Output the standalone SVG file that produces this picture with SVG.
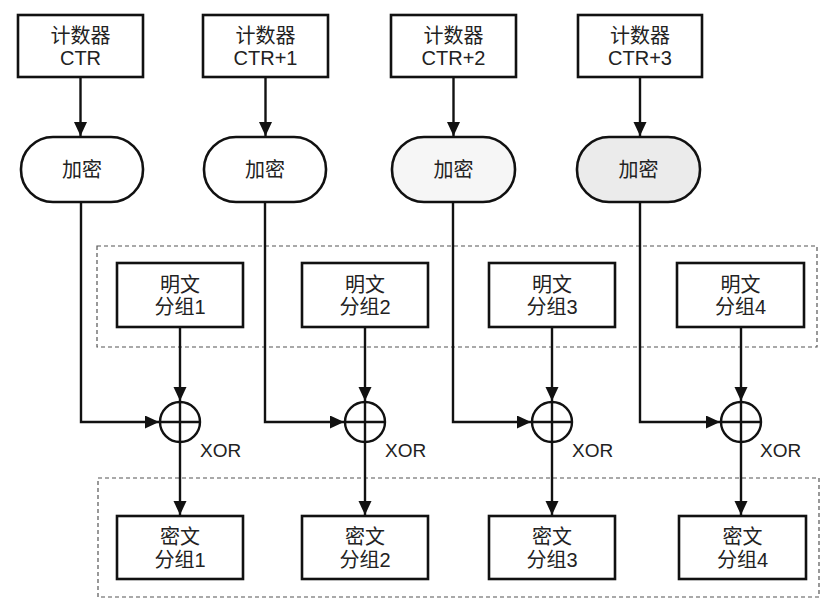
<svg xmlns="http://www.w3.org/2000/svg" width="839" height="610" viewBox="0 0 839 610">
<defs>
<style>
.box{fill:#fff;stroke:#111;stroke-width:2.6}
.enc{stroke:#111;stroke-width:2.6}
.t{font-family:"Liberation Sans","Noto Sans CJK SC",sans-serif;font-size:20px;fill:#222;text-anchor:middle}
.x{font-family:"Liberation Sans","Noto Sans CJK SC",sans-serif;font-size:19px;fill:#222}
.c{fill:none;stroke:#111;stroke-width:2.4}
.dash{fill:none;stroke:#555;stroke-width:1.2;stroke-dasharray:4 3}
.xor{fill:#fff;stroke:#111;stroke-width:2.4}
</style>
<marker id="ah" markerUnits="userSpaceOnUse" markerWidth="14" markerHeight="16" refX="14" refY="6.5" orient="auto">
<path d="M0,0 L14,6.5 L0,13 Z" fill="#111"/>
</marker>
</defs>
<rect width="839" height="610" fill="#fff"/>
<rect class="dash" x="97" y="246" width="720" height="101"/>
<rect class="dash" x="98" y="478" width="721" height="119"/>
<g id="connectors">
<line class="c" x1="80.5" y1="77" x2="80.5" y2="136" marker-end="url(#ah)"/>
<line class="c" x1="265.5" y1="77" x2="265.5" y2="136" marker-end="url(#ah)"/>
<line class="c" x1="453.5" y1="77" x2="453.5" y2="136" marker-end="url(#ah)"/>
<line class="c" x1="640" y1="77" x2="640" y2="136" marker-end="url(#ah)"/>
<polyline class="c" points="81,202 81,422 159,422" marker-end="url(#ah)"/>
<polyline class="c" points="265,202 265,422 344,422" marker-end="url(#ah)"/>
<polyline class="c" points="453,202 453,422 531,422" marker-end="url(#ah)"/>
<polyline class="c" points="640,202 640,422 720,422" marker-end="url(#ah)"/>
<line class="c" x1="180" y1="327" x2="180" y2="401" marker-end="url(#ah)"/>
<line class="c" x1="365" y1="327" x2="365" y2="401" marker-end="url(#ah)"/>
<line class="c" x1="552" y1="327" x2="552" y2="401" marker-end="url(#ah)"/>
<line class="c" x1="741" y1="327" x2="741" y2="401" marker-end="url(#ah)"/>
<line class="c" x1="180" y1="442" x2="180" y2="515" marker-end="url(#ah)"/>
<line class="c" x1="365" y1="442" x2="365" y2="515" marker-end="url(#ah)"/>
<line class="c" x1="552" y1="442" x2="552" y2="515" marker-end="url(#ah)"/>
<line class="c" x1="741" y1="442" x2="741" y2="515" marker-end="url(#ah)"/>
</g>
<g id="ctr1"><rect class="box" x="18" y="15" width="125" height="62"/><text class="t" x="80.5" y="43">计数器</text><text class="t" x="80.5" y="65">CTR</text></g>
<g id="ctr2"><rect class="box" x="203" y="15" width="125" height="62"/><text class="t" x="265.5" y="43">计数器</text><text class="t" x="265.5" y="65">CTR+1</text></g>
<g id="ctr3"><rect class="box" x="391" y="15" width="125" height="62"/><text class="t" x="453.5" y="43">计数器</text><text class="t" x="453.5" y="65">CTR+2</text></g>
<g id="ctr4"><rect class="box" x="578" y="15" width="124" height="62"/><text class="t" x="640" y="43">计数器</text><text class="t" x="640" y="65">CTR+3</text></g>
<g id="enc1"><rect class="enc" fill="#fff" x="21" y="137" width="122" height="65" rx="32" ry="32"/><text class="t" x="82" y="177">加密</text></g>
<g id="enc2"><rect class="enc" fill="#fff" x="204" y="137" width="122" height="65" rx="32" ry="32"/><text class="t" x="265" y="177">加密</text></g>
<g id="enc3"><rect class="enc" fill="#f6f6f6" x="392" y="137" width="123" height="65" rx="32" ry="32"/><text class="t" x="453.5" y="177">加密</text></g>
<g id="enc4"><rect class="enc" fill="#ebebeb" x="577" y="137" width="123" height="65" rx="32" ry="32"/><text class="t" x="638.5" y="177">加密</text></g>
<g id="p1"><rect class="box" x="117" y="263" width="126" height="64"/><text class="t" x="180" y="292">明文</text><text class="t" x="180" y="314">分组1</text></g>
<g id="p2"><rect class="box" x="302" y="263" width="126" height="64"/><text class="t" x="365" y="292">明文</text><text class="t" x="365" y="314">分组2</text></g>
<g id="p3"><rect class="box" x="489" y="263" width="126" height="64"/><text class="t" x="552" y="292">明文</text><text class="t" x="552" y="314">分组3</text></g>
<g id="p4"><rect class="box" x="677" y="263" width="127" height="64"/><text class="t" x="740.5" y="292">明文</text><text class="t" x="740.5" y="314">分组4</text></g>
<g id="x1"><circle class="xor" cx="180" cy="422" r="20"/><path class="c" d="M160,422H200M180,402V442"/><text class="x" x="200" y="457">XOR</text></g>
<g id="x2"><circle class="xor" cx="365" cy="422" r="20"/><path class="c" d="M345,422H385M365,402V442"/><text class="x" x="385" y="457">XOR</text></g>
<g id="x3"><circle class="xor" cx="552" cy="422" r="20"/><path class="c" d="M532,422H572M552,402V442"/><text class="x" x="572" y="457">XOR</text></g>
<g id="x4"><circle class="xor" cx="741" cy="422" r="20"/><path class="c" d="M721,422H761M741,402V442"/><text class="x" x="760" y="457">XOR</text></g>
<g id="c1"><rect class="box" x="117" y="516" width="126" height="63"/><text class="t" x="180" y="544">密文</text><text class="t" x="180" y="567">分组1</text></g>
<g id="c2"><rect class="box" x="302" y="516" width="126" height="63"/><text class="t" x="365" y="544">密文</text><text class="t" x="365" y="567">分组2</text></g>
<g id="c3"><rect class="box" x="489" y="516" width="126" height="63"/><text class="t" x="552" y="544">密文</text><text class="t" x="552" y="567">分组3</text></g>
<g id="c4"><rect class="box" x="679" y="516" width="127" height="63"/><text class="t" x="742.5" y="544">密文</text><text class="t" x="742.5" y="567">分组4</text></g>
</svg>
